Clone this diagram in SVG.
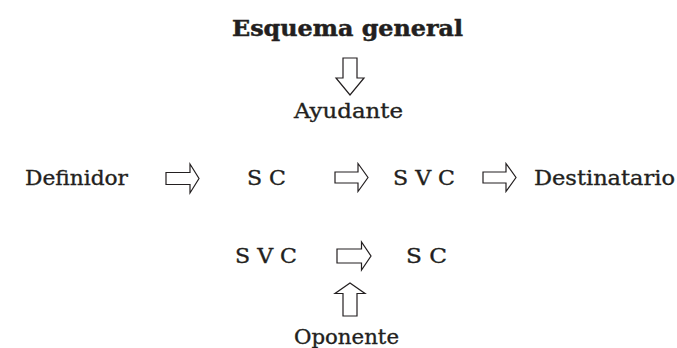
<svg xmlns="http://www.w3.org/2000/svg" width="677" height="348" viewBox="0 0 677 348">
<style>
text{font-family:"DejaVu Serif","Liberation Serif",serif;font-size:20px;fill:#231f20;stroke:#231f20;stroke-width:0.35}
.t{font-weight:bold;font-size:22.5px;stroke-width:0.5}
.a{fill:#fff;stroke:#231f20;stroke-width:1.2;stroke-linejoin:miter}
</style>
<rect width="677" height="348" fill="#fff"/>
<g id="title"><text class="t" x="232" y="36" textLength="231" lengthAdjust="spacingAndGlyphs">Esquema general</text></g>
<g id="ayudante"><text x="294" y="118" textLength="109" lengthAdjust="spacingAndGlyphs">Ayudante</text></g>
<g id="definidor"><text x="25" y="185" textLength="103" lengthAdjust="spacingAndGlyphs">Definidor</text></g>
<g id="sc1"><text x="247" y="185" textLength="39" lengthAdjust="spacingAndGlyphs">S C</text></g>
<g id="svc1"><text x="393" y="185" textLength="62" lengthAdjust="spacingAndGlyphs">S V C</text></g>
<g id="destinatario"><text x="534" y="185" textLength="141" lengthAdjust="spacingAndGlyphs">Destinatario</text></g>
<g id="svc2"><text x="235" y="263" textLength="62" lengthAdjust="spacingAndGlyphs">S V C</text></g>
<g id="sc2"><text x="406" y="263" textLength="41" lengthAdjust="spacingAndGlyphs">S C</text></g>
<g id="oponente"><text x="294" y="344" textLength="105" lengthAdjust="spacingAndGlyphs">Oponente</text></g>
<g id="connectors">
<path class="a" d="M343,58 H357 V78 H364 L350,95 L336,78 H343 Z"/>
<path class="a" d="M166,172.5 H190 V164 L199,178.5 L190,193 V184.5 H166 Z"/>
<path class="a" d="M335,172 H358 V163.5 L368,177.5 L358,191.5 V183 H335 Z"/>
<path class="a" d="M483,172 H506 V163.5 L516,177.5 L506,191.5 V183 H483 Z"/>
<path class="a" d="M337,249 H361.5 V242 L371,256 L361.5,270 V263 H337 Z"/>
<path class="a" d="M343,316 H357 V293.5 H365 L350,283 L335,293.5 H343 Z"/>
</g>
</svg>
